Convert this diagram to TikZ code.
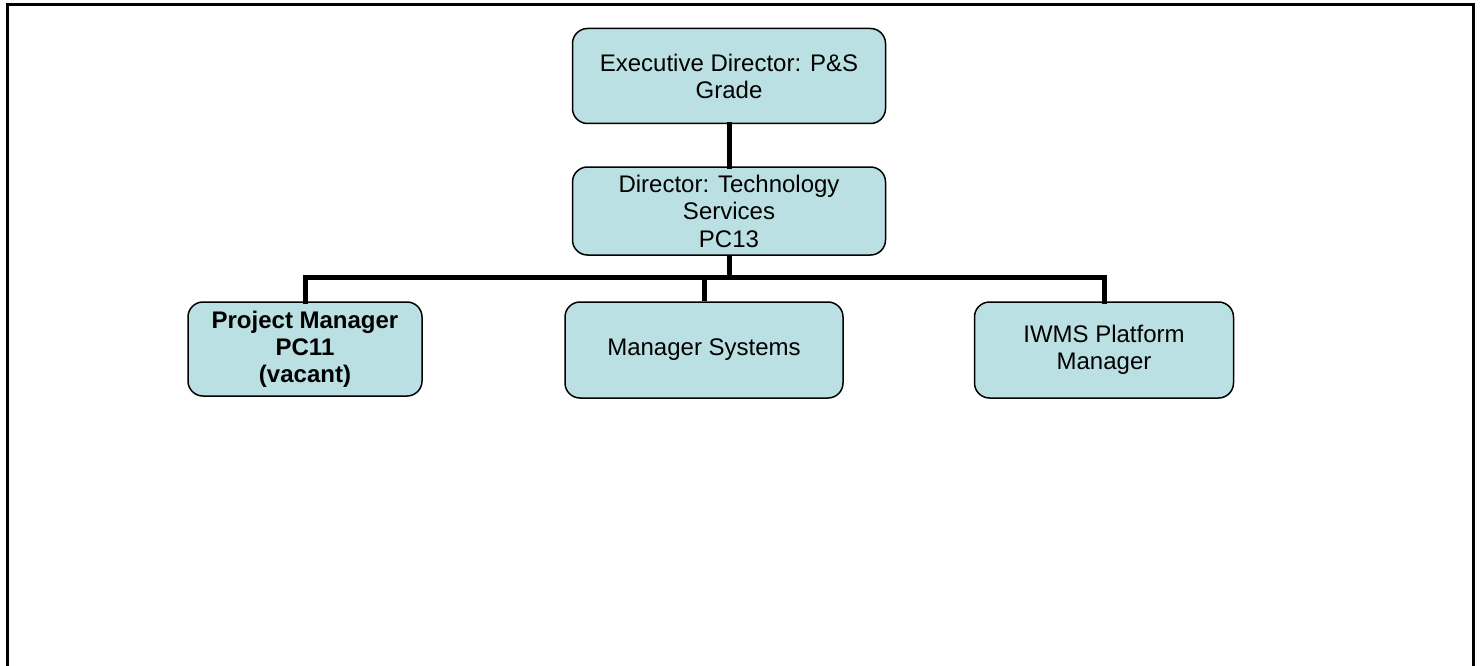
\documentclass[tikz,border=0pt]{standalone}
\usepackage{fontspec}
\setmainfont{Liberation Sans}
\definecolor{boxfill}{HTML}{BBE0E3}
\newcommand{\shiftedlines}[2]{\raisebox{#1}[0pt][0pt]{\begin{tabular}{@{}c@{}}#2\end{tabular}}}
\begin{document}
\begin{tikzpicture}[x=1pt,y=-1pt,
  orgbox/.style={draw=black, line width=1.5pt, fill=boxfill, rounded corners=15pt, align=center,
    font=\fontsize{24}{27}\selectfont, inner sep=0pt},
  conn/.style={line width=5pt, line cap=rect}]
\useasboundingbox (0,0) rectangle (1480,666);
\draw[line width=3pt] (7,666) -- (7,5) -- (1473,5) -- (1473,666);
\node[orgbox, minimum width=313pt, minimum height=95pt] (ed) at (729,76) {Executive Director: P\&S\\Grade};
\node[orgbox, minimum width=313pt, minimum height=88pt, align=none, font=\fontsize{24}{27.5}\selectfont] (dir) at (729,211) {\shiftedlines{-9.7pt}{Director: Technology\\Services\\PC13}};
\node[orgbox, minimum width=234pt, minimum height=94pt, font=\fontsize{24}{27}\selectfont\bfseries] (pm) at (305,349) {Project Manager\\PC11\\(vacant)};
\node[orgbox, minimum width=278pt, minimum height=96pt] (ms) at (704,350) {Manager Systems};
\node[orgbox, minimum width=259pt, minimum height=96pt] (iw) at (1104,350) {IWMS Platform\\Manager};
\coordinate (bus) at (729,277);
\draw[conn] (ed.south) -- (dir.north);
\draw[conn, line cap=butt] (dir.south) -- (bus);
\draw[conn] (pm.north) -- (pm.north |- bus) -- (iw.north |- bus) -- (iw.north);
\draw[conn, line cap=butt] (ms.north |- bus) -- (ms.north);
\end{tikzpicture}
\end{document}
